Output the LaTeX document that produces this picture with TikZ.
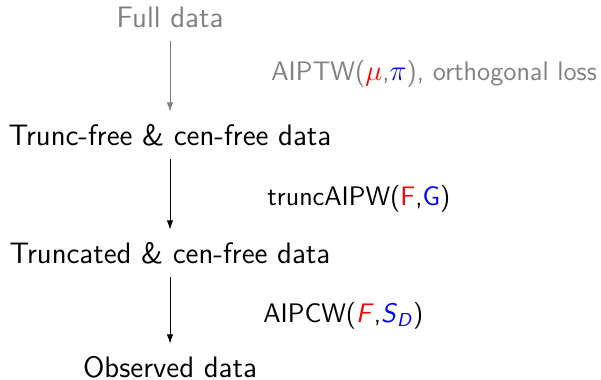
\documentclass[tikz,border=0pt]{standalone}
\usepackage{fontspec}
\usetikzlibrary{arrows.meta}
\definecolor{fadedgray}{gray}{0.5}

\begin{document}
\begin{tikzpicture}[
    x=0.5pt, y=-0.5pt,
    data/.style={inner sep=0pt, anchor=base, text=black,
        font=\sffamily\fontsize{14.8}{17}\selectfont},
    method/.style={inner sep=0pt, anchor=west, text=black,
        font=\sffamily\fontsize{13.4}{16}\selectfont},
    flow/.style={draw=black, -{Latex[length=4.5pt, width=3.2pt]},
        shorten <=6.5pt, shorten >=6pt},
    % faded/.style={text=fadedgray, draw=fadedgray},
]
\useasboundingbox (0,0) rectangle (601,380);
\node (D00) [data, text=fadedgray] at (170,27) {Full data};
\node (D01) [data] at (170,145) {Trunc-free \& cen-free data};
\node (D02) [data] at (170,263) {Truncated \& cen-free data};
\node (D03) [data] at (170,377) {Observed data};

\draw [flow, draw=fadedgray] (D00.south) -- node (M01) [method, text=fadedgray, xshift=50.5pt, yshift=1pt]
    {AIPTW(\textcolor{red}{$\mu$},\textcolor{blue}{$\pi$}), orthogonal loss} (D01.north);
\draw [flow] (D01.south) -- node (M02) [method, xshift=48.5pt, yshift=-2.5pt]
    {truncAIPW(\textcolor{red}{F},\textcolor{blue}{G})} (D02.north);
\draw [flow] (D02.south) -- node (M03) [method, xshift=46.5pt, yshift=-3pt]
    {AIPCW(\textcolor{red}{\textit{F}},\textcolor{blue}{\textit{S}\textsubscript{\textit{D}}})} (D03.north);
\end{tikzpicture}
\end{document}
